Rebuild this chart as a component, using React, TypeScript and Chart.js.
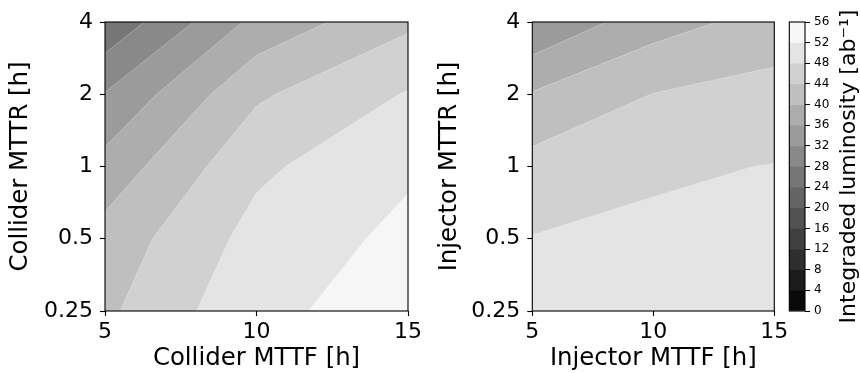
import React, { useEffect, useRef } from "react";
import { Chart, registerables } from "chart.js";

Chart.register(...registerables);

// Sampling grid of the reliability scan
const mttfValues = [5, 10, 15];
const mttrValues = [0.25, 0.5, 1, 2, 4];
const mttfTicks = [5, 10, 15];
const mttrTicks = [0.25, 0.5, 1, 2, 4];

// Integrated luminosity [ab^-1]; rows follow mttrValues, columns follow mttfValues
const colliderLumi = [
  [43.2, 51.15, 53.63],
  [41.53, 49.4, 53.0],
  [37.44, 47.2, 51.4],
  [32.2, 43.38, 48.29],
  [24.8, 37.13, 43.21],
];
const injectorLumi = [
  [49.4, 49.9, 50.1],
  [48.14, 48.73, 48.9],
  [45.41, 47.47, 48.11],
  [40.29, 44.08, 45.49],
  [32.37, 38.29, 41.55],
];

// Filled contour levels shared by both panels and the colour bar
const contourLevels = [0, 4, 8, 12, 16, 20, 24, 28, 32, 36, 40, 44, 48, 52, 56];

const FONT = "'DejaVu Sans', 'Liberation Sans', sans-serif";
const SEAM = "rgba(255,255,255,0.3)";

type Node = [number, number];
type Pt = { x: number; u: number };
type Region = { poly: Pt[]; contour: Pt[] };

const logR = mttrValues.map((v) => Math.log2(v));

function bandColor(k: number): string {
  const lo = contourLevels[0];
  const hi = contourLevels[contourLevels.length - 1];
  const mid = (contourLevels[k] + contourLevels[k + 1]) / 2;
  const v = Math.round((255 * (mid - lo)) / (hi - lo));
  return `rgb(${v},${v},${v})`;
}

function edgeKey(a: Node, b: Node): string {
  if (a[1] === b[1]) return `h${Math.min(a[0], b[0])},${a[1]}`;
  return `v${a[0]},${Math.min(a[1], b[1])}`;
}

// Polygon (in x / log2 MTTR space) of the part of the grid where z >= level,
// built with marching squares and linear interpolation along cell edges.
function regionAbove(z: number[][], level: number): Region | null {
  const nx = mttfValues.length;
  const ny = mttrValues.length;
  const isIn = (n: Node) => z[n[1]][n[0]] >= level;
  const nodePt = (n: Node): Pt => ({ x: mttfValues[n[0]], u: logR[n[1]] });
  const crossPt = (a: Node, b: Node): Pt => {
    const za = z[a[1]][a[0]];
    const zb = z[b[1]][b[0]];
    const t = (level - za) / (zb - za);
    const pa = nodePt(a);
    const pb = nodePt(b);
    return { x: pa.x + t * (pb.x - pa.x), u: pa.u + t * (pb.u - pa.u) };
  };

  const per: Node[] = [];
  for (let i = 0; i < nx; i++) per.push([i, 0]);
  for (let j = 1; j < ny; j++) per.push([nx - 1, j]);
  for (let i = nx - 2; i >= 0; i--) per.push([i, ny - 1]);
  for (let j = ny - 2; j >= 1; j--) per.push([0, j]);
  const P = per.length;

  const edgeNodes = new Map<string, [Node, Node]>();
  const perIndex = new Map<string, number>();
  const crossings: number[] = [];
  for (let k = 0; k < P; k++) {
    const a = per[k];
    const b = per[(k + 1) % P];
    const key = edgeKey(a, b);
    perIndex.set(key, k);
    edgeNodes.set(key, [a, b]);
    if (isIn(a) !== isIn(b)) crossings.push(k);
  }

  if (crossings.length === 0) {
    if (!per.every(isIn)) return null;
    return {
      poly: [nodePt([0, 0]), nodePt([nx - 1, 0]), nodePt([nx - 1, ny - 1]), nodePt([0, ny - 1])],
      contour: [],
    };
  }

  const adj = new Map<string, string[]>();
  const link = (p: string, q: string) => {
    if (!adj.has(p)) adj.set(p, []);
    if (!adj.has(q)) adj.set(q, []);
    adj.get(p)!.push(q);
    adj.get(q)!.push(p);
  };
  for (let i = 0; i < nx - 1; i++) {
    for (let j = 0; j < ny - 1; j++) {
      const edges: [Node, Node][] = [
        [[i, j], [i + 1, j]],
        [[i + 1, j], [i + 1, j + 1]],
        [[i, j + 1], [i + 1, j + 1]],
        [[i, j], [i, j + 1]],
      ];
      const crossed: string[] = [];
      for (const [a, b] of edges) {
        const key = edgeKey(a, b);
        edgeNodes.set(key, [a, b]);
        if (isIn(a) !== isIn(b)) crossed.push(key);
      }
      if (crossed.length === 2) link(crossed[0], crossed[1]);
    }
  }

  const ka = crossings[0];
  const startKey = edgeKey(per[ka], per[(ka + 1) % P]);
  const path: string[] = [startKey];
  let prev = "";
  let cur = startKey;
  for (let guard = 0; guard < 200; guard++) {
    const next = (adj.get(cur) || []).find((k) => k !== prev);
    if (!next) break;
    prev = cur;
    cur = next;
    path.push(cur);
    if (perIndex.has(cur) && cur !== startKey) break;
  }

  const contour: Pt[] = path.map((key) => {
    const [a, b] = edgeNodes.get(key)!;
    return crossPt(a, b);
  });
  const poly = contour.slice();

  const kb = perIndex.get(path[path.length - 1])!;
  if (isIn(per[(kb + 1) % P])) {
    let m = (kb + 1) % P;
    for (let guard = 0; guard < P; guard++) {
      poly.push(nodePt(per[m]));
      if (m === ka) break;
      m = (m + 1) % P;
    }
  } else {
    let m = kb;
    for (let guard = 0; guard < P; guard++) {
      poly.push(nodePt(per[m]));
      if ((m - 1 + P) % P === ka) break;
      m = (m - 1 + P) % P;
    }
  }
  return { poly, contour };
}

const xMin = mttfValues[0];
const xMax = mttfValues[mttfValues.length - 1];
const yMin = mttrValues[0];
const yMax = mttrValues[mttrValues.length - 1];

const toXY = (p: Pt) => ({ x: p.x, y: Math.pow(2, p.u) });

function contourDatasets(z: number[][]) {
  const all = z.flat();
  const zmin = Math.min(...all);
  const zmax = Math.max(...all);
  const sets: any[] = [];
  for (let k = 0; k < contourLevels.length - 1; k++) {
    const lo = contourLevels[k];
    const hi = contourLevels[k + 1];
    if (hi <= zmin || lo > zmax) continue;
    const base = lo <= zmin;
    const region = regionAbove(z, base ? zmin - 1 : lo);
    if (!region) continue;
    // filled band: everything at or above this level
    sets.push({
      data: region.poly.map(toXY),
      fill: "shape",
      backgroundColor: bandColor(k),
      borderColor: "rgba(0,0,0,0)",
      borderWidth: 0,
      pointRadius: 0,
      pointHoverRadius: 0,
      tension: 0,
      order: -lo,
    });
    // faint seam along the level line
    if (region.contour.length > 1) {
      sets.push({
        data: region.contour.map(toXY),
        fill: false,
        borderColor: SEAM,
        borderWidth: 0.9,
        pointRadius: 0,
        pointHoverRadius: 0,
        tension: 0,
        order: -lo - 0.5,
      });
    }
  }
  return sets;
}

const framePlugin = {
  id: "frame",
  afterDatasetsDraw(chart: any) {
    const { ctx, chartArea: a } = chart;
    ctx.save();
    ctx.strokeStyle = "#000";
    ctx.lineWidth = 1.1;
    ctx.strokeRect(a.left, a.top, a.right - a.left, a.bottom - a.top);
    ctx.restore();
  },
};

const fixBox = (w?: number, h?: number) => (s: any) => {
  if (w !== undefined) s.width = w;
  if (h !== undefined) s.height = h;
  s.paddingLeft = 0;
  s.paddingRight = 0;
  s.paddingTop = 0;
  s.paddingBottom = 0;
};

function panelConfig(
  z: number[][],
  xTitle: string,
  yTitle: string,
  yWidth: number,
  yTitlePad: number,
  padRight: number
): any {
  const tickFont = { family: FONT, size: 22 };
  const titleFont = { family: FONT, size: 24.4 };
  return {
    type: "line",
    data: { datasets: contourDatasets(z) },
    options: {
      responsive: false,
      animation: false,
      events: [],
      layout: { padding: { left: 0, top: 22, right: padRight, bottom: 0 } },
      plugins: { legend: { display: false }, tooltip: { enabled: false } },
      scales: {
        x: {
          type: "linear",
          min: xMin,
          max: xMax,
          afterBuildTicks: (s: any) => {
            s.ticks = mttfTicks.map((v) => ({ value: v }));
          },
          afterFit: fixBox(undefined, 62),
          ticks: {
            font: tickFont,
            color: "#000",
            padding: 3,
            maxRotation: 0,
            autoSkip: false,
            callback: (v: number) => String(v),
          },
          grid: {
            drawOnChartArea: false,
            drawTicks: true,
            tickLength: 5,
            tickColor: "#000",
            tickWidth: 1.1,
          },
          border: { display: false },
          title: {
            display: true,
            text: xTitle,
            color: "#000",
            font: titleFont,
            padding: { top: 0, bottom: 0 },
          },
        },
        y: {
          type: "logarithmic",
          min: yMin,
          max: yMax,
          afterBuildTicks: (s: any) => {
            s.ticks = mttrTicks.map((v) => ({ value: v }));
          },
          afterFit: fixBox(yWidth, undefined),
          ticks: {
            font: tickFont,
            color: "#000",
            padding: 7,
            autoSkip: false,
            callback: (v: number) => String(v),
          },
          grid: {
            drawOnChartArea: false,
            drawTicks: true,
            tickLength: 5,
            tickColor: "#000",
            tickWidth: 1.1,
          },
          border: { display: false },
          title: {
            display: true,
            text: yTitle,
            color: "#000",
            font: titleFont,
            padding: { top: yTitlePad, bottom: 0 },
          },
        },
      },
    },
    plugins: [framePlugin],
  };
}

const colorbarTitle = {
  id: "colorbarTitle",
  afterDraw(chart: any) {
    const { ctx, chartArea: a } = chart;
    ctx.save();
    ctx.translate(67.6, (a.top + a.bottom) / 2);
    ctx.rotate(-Math.PI / 2);
    ctx.font = `22px ${FONT}`;
    ctx.fillStyle = "#000";
    ctx.textAlign = "center";
    ctx.textBaseline = "middle";
    ctx.fillText("Integraded luminosity [ab\u207B\u00B9]", 0, 0);
    ctx.restore();
  },
};

function colorbarConfig(): any {
  const n = contourLevels.length - 1;
  const top = contourLevels[n];
  const datasets = contourLevels.slice(0, n).map((lo, k) => ({
    data: [[lo, top]],
    backgroundColor: bandColor(k),
    borderWidth: 0,
    grouped: false,
    barPercentage: 1,
    categoryPercentage: 1,
    order: n - k,
  }));
  return {
    type: "bar",
    data: { labels: [""], datasets },
    options: {
      responsive: false,
      animation: false,
      events: [],
      layout: { padding: { left: 7.3, top: 22, right: 0, bottom: 62 } },
      plugins: { legend: { display: false }, tooltip: { enabled: false } },
      scales: {
        x: { type: "category", display: false },
        y: {
          type: "linear",
          position: "right",
          min: contourLevels[0],
          max: top,
          afterBuildTicks: (s: any) => {
            s.ticks = contourLevels.map((v) => ({ value: v }));
          },
          afterFit: fixBox(55, undefined),
          ticks: {
            font: { family: FONT, size: 12 },
            color: "#000",
            padding: 4,
            autoSkip: false,
            callback: (v: number) => String(v),
          },
          grid: {
            drawOnChartArea: false,
            drawTicks: true,
            tickLength: 5,
            tickColor: "#000",
            tickWidth: 1,
          },
          border: { display: false },
        },
      },
    },
    plugins: [framePlugin, colorbarTitle],
  };
}

export default function App() {
  const leftRef = useRef<HTMLCanvasElement>(null);
  const rightRef = useRef<HTMLCanvasElement>(null);
  const barRef = useRef<HTMLCanvasElement>(null);

  useEffect(() => {
    const charts = [
      new Chart(
        leftRef.current!,
        panelConfig(colliderLumi, "Collider MTTF [h]", "Collider MTTR [h]", 105, 6.5, 22)
      ),
      new Chart(
        rightRef.current!,
        panelConfig(injectorLumi, "Injector MTTF [h]", "Injector MTTR [h]", 102.3, 4.8, 17.7)
      ),
      new Chart(barRef.current!, colorbarConfig()),
    ];
    return () => charts.forEach((c) => c.destroy());
  }, []);

  const abs = (left: number, width: number): React.CSSProperties => ({
    position: "absolute",
    left,
    top: 0,
    width,
    height: 373,
  });

  return (
    <div
      style={{
        position: "fixed",
        left: 0,
        top: 0,
        width: 860,
        height: 373,
        background: "#fff",
        overflow: "hidden",
      }}
    >
      <canvas ref={leftRef} width={430} height={373} style={abs(0, 430)} />
      <canvas ref={rightRef} width={362} height={373} style={abs(430, 362)} />
      <canvas ref={barRef} width={78} height={373} style={abs(782, 78)} />
    </div>
  );
}
